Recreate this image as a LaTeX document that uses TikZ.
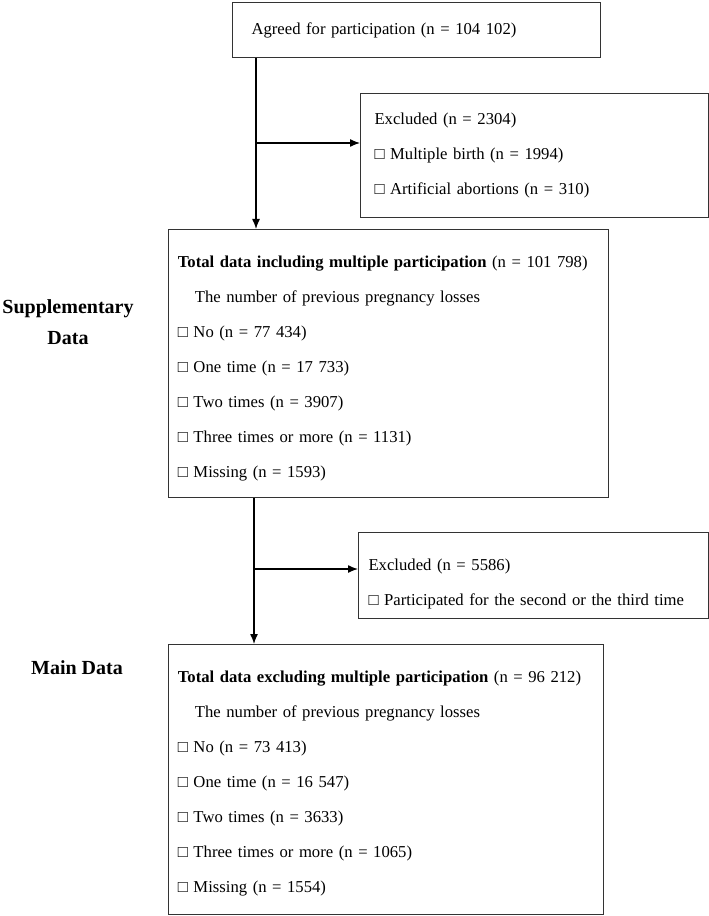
\documentclass[tikz,border=0pt]{standalone}
\usepackage{fontspec}
\setmainfont{Liberation Serif}
\usetikzlibrary{arrows.meta}
\newcommand{\puce}{□\ }
\begin{document}
\begin{tikzpicture}[x=0.75pt, y=-0.75pt, >={Latex[length=7.5pt,width=6pt]}, font=\fontsize{12.5}{26.25}\selectfont]
        \tikzstyle{block} = [rectangle, draw=black!80, line width=0.8pt, align=left,
                            anchor=north west, inner ysep=0pt]
        \tikzstyle{side} = [font=\fontsize{15}{23.25}\selectfont\bfseries, align=center]
        \tikzstyle{fleche} = [->, line width=1pt]

        \useasboundingbox (0,0) rectangle (709,916);

        % Boîtes
        \node[block, inner xsep=14.25pt, text width=247.5pt, minimum height=41.25pt] (agreed) at (232,2) {Agreed for participation (n = 104~102)};
        \node[block, inner xsep=10.5pt, text width=240pt, minimum height=93pt] (excl1) at (360,93) {Excluded (n = 2304)\\ \puce Multiple birth (n = 1994)\\ \puce Artificial abortions (n = 310)};
        \node[block, inner xsep=7pt, text width=316pt, minimum height=201pt] (total1) at (168,229) {\rule{0pt}{16pt}\textbf{Total data including multiple participation} (n~=~101~798)\\ \hspace*{12.75pt}The number of previous pregnancy losses\\ \puce No (n = 77~434)\\ \puce One time (n = 17~733)\\ \puce Two times (n = 3907)\\ \puce Three times or more (n = 1131)\\ \puce Missing (n = 1593)};
        \node[block, inner xsep=7.5pt, text width=247.5pt, minimum height=64.5pt] (excl2) at (358,532) {\rule{0pt}{21pt}Excluded (n = 5586)\\ \puce Participated for the second or the third time};
        \node[block, inner xsep=7pt, text width=312.25pt, minimum height=202.5pt] (total2) at (168,644) {\rule{0pt}{15pt}\textbf{Total data excluding multiple participation} (n~=~96~212)\\ \hspace*{12.75pt}The number of previous pregnancy losses\\ \puce No (n = 73~413)\\ \puce One time (n = 16~547)\\ \puce Two times (n = 3633)\\ \puce Three times or more (n = 1065)\\ \puce Missing (n = 1554)};

        % Étiquettes
        \node[side] (supp) at (68,322) {Supplementary\\Data};
        \node[side] (main) at (77,668) {Main Data};

        % Flèches
        \coordinate (split1) at (256,143);
        \coordinate (split2) at (254,569);
        \draw[fleche] (agreed.south -| split1) -- (total1.north -| split1);
        \draw[fleche] (split1) -- (split1 -| excl1.west);
        \draw[fleche] (total1.south -| split2) -- (total2.north -| split2);
        \draw[fleche] (split2) -- (split2 -| excl2.west);
    \end{tikzpicture}
\end{document}
